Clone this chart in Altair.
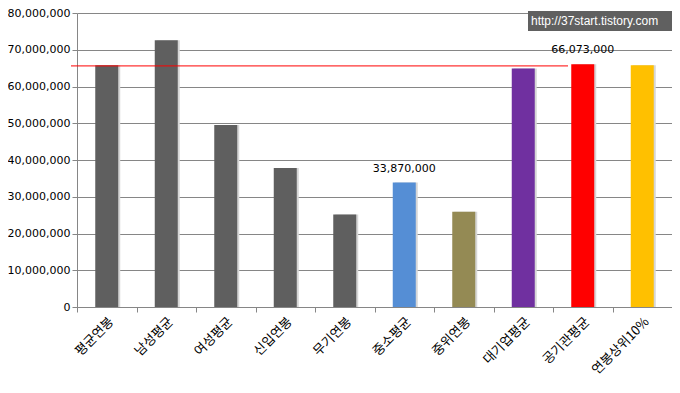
import altair as alt
import pandas as pd

categories = ["평균연봉", "남성평균", "여성평균", "신입연봉", "무기연봉",
              "중소평균", "중위연봉", "대기업평균", "공기관평균", "연봉상위10%"]
values = [65800000, 72600000, 49500000, 37800000, 25200000,
          33870000, 25900000, 64900000, 66073000, 65800000]
labels = ["", "", "", "", "", "33,870,000", "", "", "66,073,000", ""]
bar_colors = ["#5f5f5f", "#5f5f5f", "#5f5f5f", "#5f5f5f", "#5f5f5f",
              "#558ed5", "#948a54", "#7030a0", "#ff0000", "#ffc000"]
ref_value = [65600000]
y_ticks = [0, 10000000, 20000000, 30000000, 40000000,
           50000000, 60000000, 70000000, 80000000]
watermark = ["http://37start.tistory.com"]

df = pd.DataFrame({"category": categories, "value": values,
                   "label": labels, "color": bar_colors})

x_enc = alt.X(
    "category:N", sort=categories,
    scale=alt.Scale(paddingInner=0, paddingOuter=0),
    axis=alt.Axis(title=None, labelAngle=-45, tickBand="extent", tickSize=5,
                  domainColor="#868686", tickColor="#868686",
                  labelFont="Noto Sans CJK KR", labelFontSize=13,
                  labelColor="#000000", labelPadding=3),
)
y_axis = alt.Axis(title=None, values=y_ticks, format=",d", tickSize=5,
                  grid=True, gridColor="#868686", domainColor="#868686",
                  tickColor="#868686", labelFont="DejaVu Sans",
                  labelFontSize=11, labelColor="#000000", labelPadding=2,
                  labelOverlap=False, labelFlush=False)
y_scale = alt.Scale(domain=[0, 80000000], nice=False)
y_enc = alt.Y("value:Q", scale=y_scale, axis=y_axis)

base = alt.Chart(df)

shadow = base.mark_bar(size=23, xOffset=2, color="#d6d6d6").encode(x=x_enc, y=y_enc)
bars = base.mark_bar(size=23).encode(
    x=x_enc, y=y_enc, color=alt.Color("color:N", scale=None))
text = base.mark_text(dy=-14, baseline="middle", font="DejaVu Sans",
                      fontSize=11, color="#000000").encode(
    x=x_enc, y=y_enc, text="label:N")

rule = alt.Chart(pd.DataFrame({"value": ref_value})).mark_rule(
    color="#ff0000", strokeWidth=1).encode(
    y=y_enc, x=alt.value(-6), x2=alt.value(491))

wm_df = pd.DataFrame({"t": watermark})
wm_box = alt.Chart(wm_df).mark_rect(color="#606060").encode(
    x=alt.value(451), x2=alt.value(596), y=alt.value(-2), y2=alt.value(18))
wm_text = alt.Chart(wm_df).mark_text(
    color="#ffffff", align="left", baseline="middle",
    font="Liberation Sans", fontSize=12).encode(
    x=alt.value(454), y=alt.value(8), text="t:N")

chart = alt.layer(shadow, bars, rule, text, wm_box, wm_text).properties(
    width=595, height=294,
    autosize=alt.AutoSizeParams(type="none"),
    padding={"left": 69, "top": 5, "right": 0, "bottom": 78},
).configure_view(stroke=None)

chart.save("out.html", embed_options={"renderer": "svg", "actions": False})
